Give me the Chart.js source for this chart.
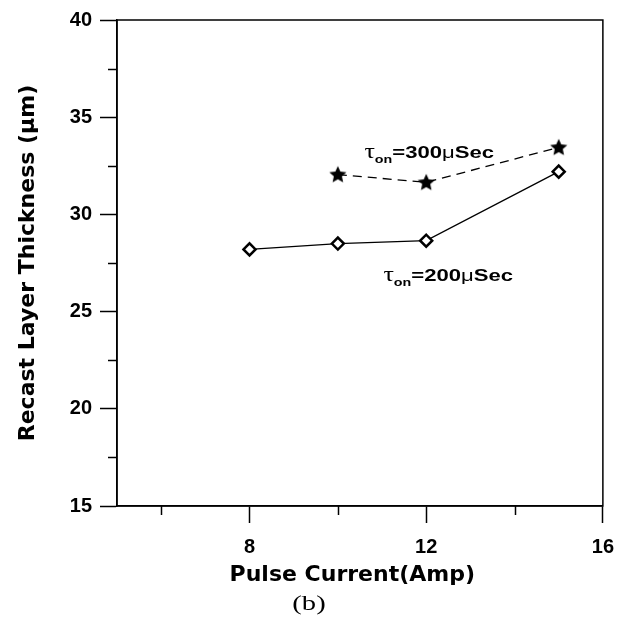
<!DOCTYPE html>
<html><head><meta charset="utf-8">
<script src="https://cdn.jsdelivr.net/npm/chart.js@4.4.0/dist/chart.umd.min.js"></script>
<style>html,body{margin:0;padding:0;background:#fff;} #wrap{width:626px;height:630px;}</style>
</head><body><div id="wrap"><canvas id="c" width="626" height="630"></canvas></div>
<script>
const currents200 = [8, 10, 12, 15];
const thickness200 = [28.2, 28.5, 28.65, 32.2];
const currents300 = [10, 12, 15];
const thickness300 = [32.05, 31.65, 33.45];
const pulseOnTimes = [200, 300];
const xMajorTicks = [8, 12, 16];
const xMinorTicks = [6, 10, 14];
const yMajorTicks = [15, 20, 25, 30, 35, 40];
const yMinorTicks = [17.5, 22.5, 27.5, 32.5, 37.5];
const xTitle = 'Pulse Current(Amp)';
const yTitle = 'Recast Layer Thickness (\u03BCm)';
const panelLabel = '(b)';

function makeStar(r) {
  const s = Math.ceil(r * 2 + 2);
  const c = document.createElement('canvas');
  c.width = s; c.height = s;
  const g = c.getContext('2d');
  g.translate(s / 2, s / 2 + 0.5);
  g.beginPath();
  for (let i = 0; i < 10; i++) {
    const rr = i % 2 ? r * 0.47 : r;
    const a = -Math.PI / 2 + i * Math.PI / 5;
    g.lineTo(rr * Math.cos(a), rr * Math.sin(a));
  }
  g.closePath();
  g.fillStyle = '#000';
  g.fill();
  return c;
}
const starImg = makeStar(9);

function drawTauLabel(ctx, cx, baseline, value, sx) {
  const parts = [
    {t: '\u03C4', f: '20px "Liberation Serif"', dy: 0},
    {t: 'on', f: 'bold 11px "Liberation Sans"', dy: 5},
    {t: '=' + value, f: 'bold 17px "Liberation Sans"', dy: 0},
    {t: '\u03BC', f: '17px "Liberation Sans"', dy: 0},
    {t: 'Sec', f: 'bold 17px "Liberation Sans"', dy: 0}
  ];
  let total = 0;
  parts.forEach(p => { ctx.font = p.f; p.w = ctx.measureText(p.t).width; total += p.w; });
  ctx.save();
  ctx.translate(cx, baseline);
  ctx.scale(sx, 1);
  ctx.fillStyle = '#000';
  ctx.textBaseline = 'alphabetic';
  ctx.textAlign = 'left';
  let x = -total / 2;
  parts.forEach(p => { ctx.font = p.f; ctx.fillText(p.t, x, p.dy); x += p.w; });
  ctx.restore();
}

const framePlugin = {
  id: 'frame',
  afterDraw(chart) {
    const {ctx, chartArea: a, scales: {x, y}} = chart;
    ctx.save();
    ctx.strokeStyle = '#000';
    ctx.lineWidth = 1.5;
    ctx.strokeRect(a.left, a.top, a.right - a.left, a.bottom - a.top);
    xMinorTicks.forEach(v => {
      const px = Math.round(x.getPixelForValue(v)) + 0.5;
      ctx.beginPath(); ctx.moveTo(px, a.bottom); ctx.lineTo(px, a.bottom + 9); ctx.stroke();
    });
    yMinorTicks.forEach(v => {
      const py = Math.round(y.getPixelForValue(v)) + 0.5;
      ctx.beginPath(); ctx.moveTo(a.left, py); ctx.lineTo(a.left - 9, py); ctx.stroke();
    });
    drawTauLabel(ctx, x.getPixelForValue(12.07), y.getPixelForValue(32.9), pulseOnTimes[1], 1.3);
    drawTauLabel(ctx, x.getPixelForValue(12.5), y.getPixelForValue(26.55), pulseOnTimes[0], 1.3);
    ctx.save();
    ctx.translate(309, 610);
    ctx.scale(1.3, 1);
    ctx.font = '22px "Liberation Serif"';
    ctx.textAlign = 'center';
    ctx.textBaseline = 'alphabetic';
    ctx.fillStyle = '#000';
    ctx.fillText(panelLabel, 0, 0);
    ctx.restore();
    ctx.restore();
  }
};

const tickFont = {family: '"Liberation Sans", Arial, sans-serif', weight: 'bold', size: 20};

new Chart(document.getElementById('c'), {
  type: 'line',
  data: {
    datasets: [
      {
        label: '\u03C4on=' + pulseOnTimes[0] + '\u03BCSec',
        data: currents200.map((c, i) => ({x: c, y: thickness200[i]})),
        borderColor: '#000', borderWidth: 1.3, fill: false, tension: 0,
        pointStyle: 'rectRot', pointRadius: 6, pointBorderWidth: 2.5,
        pointBackgroundColor: '#fff', pointBorderColor: '#000'
      },
      {
        label: '\u03C4on=' + pulseOnTimes[1] + '\u03BCSec',
        data: currents300.map((c, i) => ({x: c, y: thickness300[i]})),
        borderColor: '#000', borderWidth: 1.3, borderDash: [9, 6], fill: false, tension: 0,
        pointStyle: starImg, pointRadius: 9
      }
    ]
  },
  options: {
    responsive: false,
    devicePixelRatio: 1,
    animation: false,
    layout: {padding: {top: 19, right: 22, left: 0, bottom: 0}},
    plugins: {legend: {display: false}, tooltip: {enabled: false}},
    scales: {
      x: {
        type: 'linear', min: 5, max: 16,
        afterBuildTicks: s => { s.ticks = [...xMinorTicks, ...xMajorTicks].sort((a, b) => a - b).map(v => ({value: v})); },
        afterFit: s => { s.height = 124; },
        ticks: {autoSkip: false, maxRotation: 0, padding: 12, color: '#000', font: tickFont,
          callback: v => xMajorTicks.includes(v) ? String(v) : ''},
        grid: {drawOnChartArea: false, drawTicks: true, tickLength: 17, tickWidth: 1.5,
          tickColor: c => (c.tick && xMajorTicks.includes(c.tick.value)) ? '#000' : 'rgba(0,0,0,0)'},
        border: {display: true, color: '#000', width: 1.5},
        title: {display: true, text: xTitle + '  ', color: '#000',
          font: {family: '"DejaVu Sans", sans-serif', weight: 'bold', size: 22},
          padding: {top: 0, bottom: 42}}
      },
      y: {
        type: 'linear', min: 15, max: 40,
        afterBuildTicks: s => { s.ticks = [...yMajorTicks, ...yMinorTicks].sort((a, b) => a - b).map(v => ({value: v})); },
        afterFit: s => { s.width = 117; },
        ticks: {autoSkip: false, padding: 8, color: '#000', font: tickFont,
          callback: v => yMajorTicks.includes(v) ? String(v) : ''},
        grid: {drawOnChartArea: false, drawTicks: true, tickLength: 17, tickWidth: 1.5,
          tickColor: c => (c.tick && yMajorTicks.includes(c.tick.value)) ? '#000' : 'rgba(0,0,0,0)'},
        border: {display: true, color: '#000', width: 1.5},
        title: {display: true, text: yTitle, color: '#000',
          font: {family: '"DejaVu Sans", sans-serif', weight: 'bold', size: 22},
          padding: {top: 15, bottom: 0}}
      }
    }
  },
  plugins: [framePlugin]
});
</script>
</body></html>
